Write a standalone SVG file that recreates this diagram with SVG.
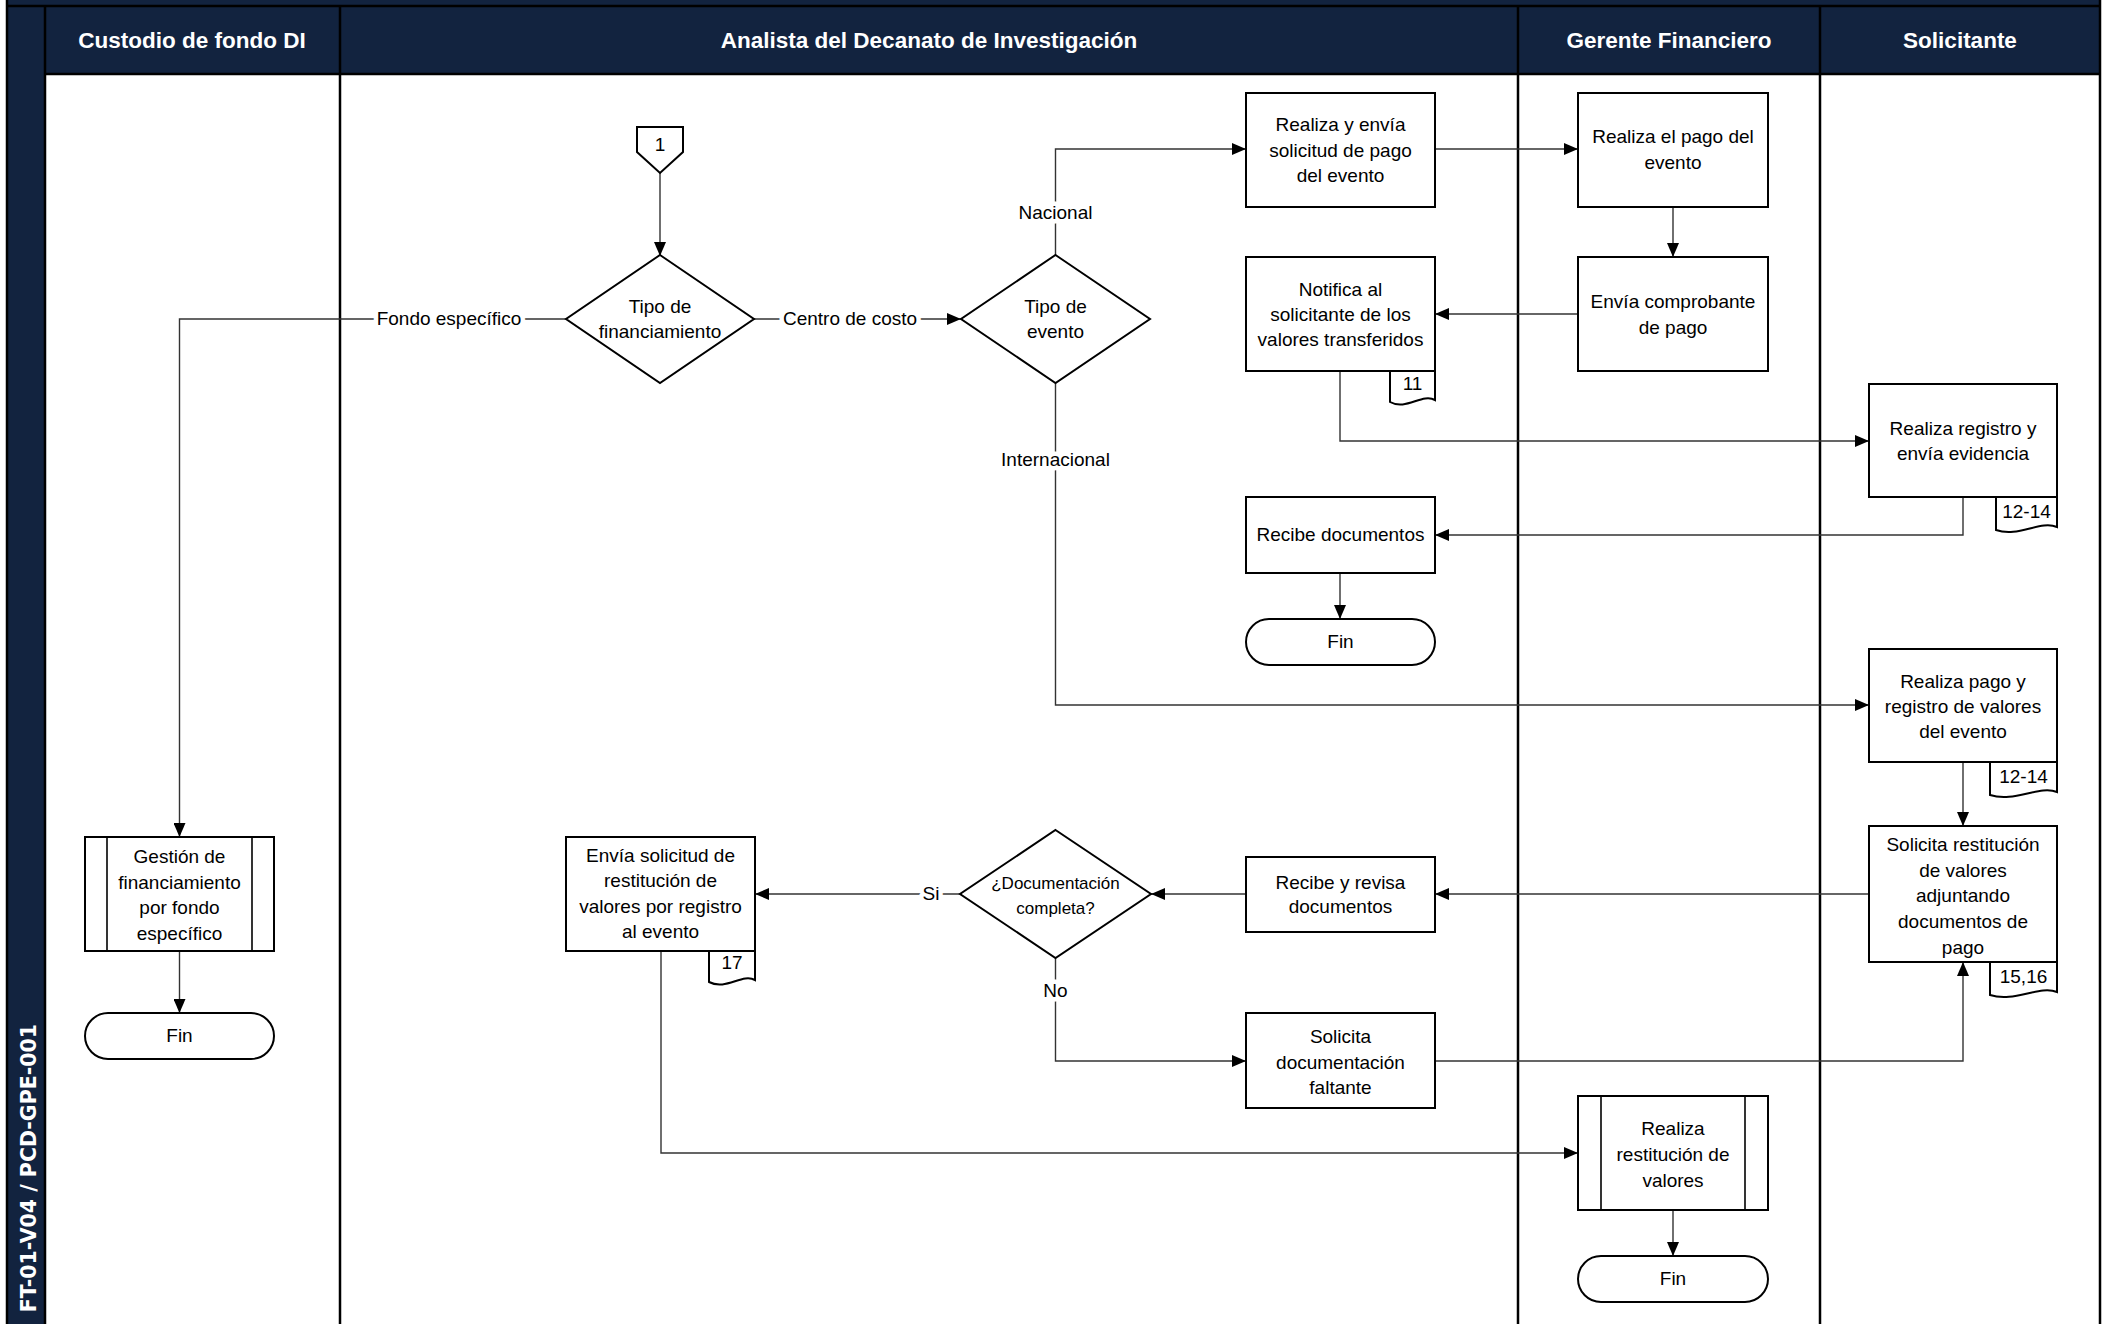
<svg xmlns="http://www.w3.org/2000/svg" width="2107" height="1324" viewBox="0 0 2107 1324">
<style>
.box{fill:#fff;stroke:#000;stroke-width:2}
.sub{fill:none;stroke:#000;stroke-width:1.6}
.t{font-family:"Liberation Sans",Arial,sans-serif;font-size:19px;fill:#000;text-anchor:middle}
.ts{font-family:"Liberation Sans",Arial,sans-serif;font-size:17px;fill:#000;text-anchor:middle}
.hdr{font-family:"Liberation Sans",Arial,sans-serif;font-weight:bold;font-size:22.5px;fill:#fff;text-anchor:middle}
.side{font-family:"DejaVu Sans",Verdana,sans-serif;font-weight:bold;font-size:20.5px;fill:#fff;text-anchor:end}
.conn{fill:none;stroke:#333;stroke-width:1.4;marker-end:url(#arr)}
.lbl{font-family:"Liberation Sans",Arial,sans-serif;font-size:19px;fill:#000;text-anchor:middle;stroke:#fff;stroke-width:9px;paint-order:stroke;stroke-linejoin:round}
.lane{stroke:#000;stroke-width:2.5;fill:none}
</style>
<defs>
<marker id="arr" viewBox="0 0 10 10" refX="10" refY="5" markerWidth="14" markerHeight="12" markerUnits="userSpaceOnUse" orient="auto" preserveAspectRatio="none"><path d="M0,0 L10,5 L0,10 z" fill="#000"/></marker>
</defs>
<rect x="0" y="0" width="2107" height="1324" fill="#fff"/>
<g id="lanes">
<rect x="6" y="0" width="2094" height="74" fill="#12233F"/>
<rect x="6" y="0" width="39" height="1324" fill="#12233F"/>
<line class="lane" x1="6" y1="6" x2="2100" y2="6"/>
<line class="lane" x1="45" y1="74" x2="2100" y2="74"/>
<line class="lane" x1="7" y1="0" x2="7" y2="1324"/>
<line class="lane" x1="45" y1="6" x2="45" y2="1324"/>
<line class="lane" x1="340" y1="6" x2="340" y2="1324"/>
<line class="lane" x1="1518" y1="6" x2="1518" y2="1324"/>
<line class="lane" x1="1820" y1="6" x2="1820" y2="1324"/>
<line class="lane" x1="2100" y1="0" x2="2100" y2="1324"/>
<text class="hdr" x="192" y="48">Custodio de fondo DI</text>
<text class="hdr" x="929" y="48">Analista del Decanato de Investigación</text>
<text class="hdr" x="1669" y="48">Gerente Financiero</text>
<text class="hdr" x="1960" y="48">Solicitante</text>
<text class="side" transform="translate(35.5,1024) rotate(-90)">FT-01-V04 / PCD-GPE-001</text>
</g>
<g id="connectors">
<path class="conn" d="M660,173 V256"/>
<path class="conn" d="M566,319 H179.5 V837"/>
<path class="conn" d="M754,319 H961"/>
<path class="conn" d="M1055.5,255 V149 H1246"/>
<path class="conn" d="M1435,149 H1578"/>
<path class="conn" d="M1673,207 V257"/>
<path class="conn" d="M1578,314 H1435"/>
<path class="conn" d="M1340,371 V441 H1869"/>
<path class="conn" d="M1963,497 V535 H1435"/>
<path class="conn" d="M1340,573 V619"/>
<path class="conn" d="M1055.5,383 V705 H1869"/>
<path class="conn" d="M1963,762 V826"/>
<path class="conn" d="M1869,894 H1435"/>
<path class="conn" d="M1246,894 H1151"/>
<path class="conn" d="M960,894 H755"/>
<path class="conn" d="M1055.5,958 V1061 H1246"/>
<path class="conn" d="M1435,1061 H1963 V962"/>
<path class="conn" d="M661,951 V1153 H1578"/>
<path class="conn" d="M1673,1210 V1256"/>
<path class="conn" d="M179.5,951 V1013"/>
<text class="lbl" x="449" y="325">Fondo específico</text>
<text class="lbl" x="850" y="325">Centro de costo</text>
<text class="lbl" x="1055.5" y="219">Nacional</text>
<text class="lbl" x="1055.5" y="466">Internacional</text>
<text class="lbl" x="931" y="900">Si</text>
<text class="lbl" x="1055.5" y="997">No</text>
</g>
<g id="c1">
<path class="box" d="M637,127 H683 V152 L660,173 L637,152 Z"/>
<text class="t" x="660" y="151">1</text>
</g>
<g id="d1">
<path class="box" d="M660,255 L754,319 L660,383 L566,319 Z"/>
<text class="t" x="660" y="313">Tipo de</text>
<text class="t" x="660" y="338">financiamiento</text>
</g>
<g id="d2">
<path class="box" d="M1055.5,255 L1150,319 L1055.5,383 L961,319 Z"/>
<text class="t" x="1055.5" y="313">Tipo de</text>
<text class="t" x="1055.5" y="338">evento</text>
</g>
<g id="d3">
<path class="box" d="M1055.5,830 L1151,894 L1055.5,958 L960,894 Z"/>
<text class="ts" x="1055.5" y="889">¿Documentación</text>
<text class="ts" x="1055.5" y="914">completa?</text>
</g>
<g id="n1">
<rect class="box" x="1246" y="93" width="189" height="114"/>
<text class="t" x="1340.5" y="131">Realiza y envía</text>
<text class="t" x="1340.5" y="157">solicitud de pago</text>
<text class="t" x="1340.5" y="182">del evento</text>
</g>
<g id="n2">
<rect class="box" x="1246" y="257" width="189" height="114"/>
<text class="t" x="1340.5" y="296">Notifica al</text>
<text class="t" x="1340.5" y="321">solicitante de los</text>
<text class="t" x="1340.5" y="346">valores transferidos</text>
<path class="box" d="M1390,371 H1435 V400 C1422,393 1406,411 1390,402 Z"/>
<text class="t" x="1412.5" y="390">11</text>
</g>
<g id="n3">
<rect class="box" x="1246" y="497" width="189" height="76"/>
<text class="t" x="1340.5" y="541">Recibe documentos</text>
</g>
<g id="fin2">
<rect class="box" x="1246" y="619" width="189" height="46" rx="23" ry="23"/>
<text class="t" x="1340.5" y="648">Fin</text>
</g>
<g id="n4">
<rect class="box" x="1246" y="857" width="189" height="75"/>
<text class="t" x="1340.5" y="889">Recibe y revisa</text>
<text class="t" x="1340.5" y="913">documentos</text>
</g>
<g id="n5">
<rect class="box" x="1246" y="1013" width="189" height="95"/>
<text class="t" x="1340.5" y="1043">Solicita</text>
<text class="t" x="1340.5" y="1069">documentación</text>
<text class="t" x="1340.5" y="1094">faltante</text>
</g>
<g id="n6">
<rect class="box" x="566" y="837" width="189" height="114"/>
<text class="t" x="660.5" y="862">Envía solicitud de</text>
<text class="t" x="660.5" y="887">restitución de</text>
<text class="t" x="660.5" y="913">valores por registro</text>
<text class="t" x="660.5" y="938">al evento</text>
<path class="box" d="M709,951 H755 V980 C742,973 726,991 709,982 Z"/>
<text class="t" x="732" y="969">17</text>
</g>
<g id="n7">
<rect class="box" x="85" y="837" width="189" height="114"/>
<line class="sub" x1="107" y1="837" x2="107" y2="951"/>
<line class="sub" x1="252" y1="837" x2="252" y2="951"/>
<text class="t" x="179.5" y="863">Gestión de</text>
<text class="t" x="179.5" y="889">financiamiento</text>
<text class="t" x="179.5" y="914">por fondo</text>
<text class="t" x="179.5" y="940">específico</text>
</g>
<g id="fin1">
<rect class="box" x="85" y="1013" width="189" height="46" rx="23" ry="23"/>
<text class="t" x="179.5" y="1042">Fin</text>
</g>
<g id="g1">
<rect class="box" x="1578" y="93" width="190" height="114"/>
<text class="t" x="1673" y="143">Realiza el pago del</text>
<text class="t" x="1673" y="169">evento</text>
</g>
<g id="g2">
<rect class="box" x="1578" y="257" width="190" height="114"/>
<text class="t" x="1673" y="308">Envía comprobante</text>
<text class="t" x="1673" y="334">de pago</text>
</g>
<g id="g3">
<rect class="box" x="1578" y="1096" width="190" height="114"/>
<line class="sub" x1="1601" y1="1096" x2="1601" y2="1210"/>
<line class="sub" x1="1745" y1="1096" x2="1745" y2="1210"/>
<text class="t" x="1673" y="1135">Realiza</text>
<text class="t" x="1673" y="1161">restitución de</text>
<text class="t" x="1673" y="1187">valores</text>
</g>
<g id="fin3">
<rect class="box" x="1578" y="1256" width="190" height="46" rx="23" ry="23"/>
<text class="t" x="1673" y="1285">Fin</text>
</g>
<g id="s1">
<rect class="box" x="1869" y="384" width="188" height="113"/>
<text class="t" x="1963" y="435">Realiza  registro y</text>
<text class="t" x="1963" y="460">envía evidencia</text>
<path class="box" d="M1996,497 H2057 V527 C2040,520 2018,538 1996,530 Z"/>
<text class="t" x="2026.5" y="518">12-14</text>
</g>
<g id="s2">
<rect class="box" x="1869" y="649" width="188" height="113"/>
<text class="t" x="1963" y="688">Realiza pago y</text>
<text class="t" x="1963" y="713">registro de  valores</text>
<text class="t" x="1963" y="738">del evento</text>
<path class="box" d="M1990,762 H2057 V792 C2039,785 2014,803 1990,795 Z"/>
<text class="t" x="2023.5" y="783">12-14</text>
</g>
<g id="s3">
<rect class="box" x="1869" y="826" width="188" height="136"/>
<text class="t" x="1963" y="851">Solicita restitución</text>
<text class="t" x="1963" y="877">de valores</text>
<text class="t" x="1963" y="902">adjuntando</text>
<text class="t" x="1963" y="928">documentos de</text>
<text class="t" x="1963" y="954">pago</text>
<path class="box" d="M1990,962 H2057 V992 C2039,985 2014,1003 1990,995 Z"/>
<text class="t" x="2023.5" y="983">15,16</text>
</g>
</svg>
